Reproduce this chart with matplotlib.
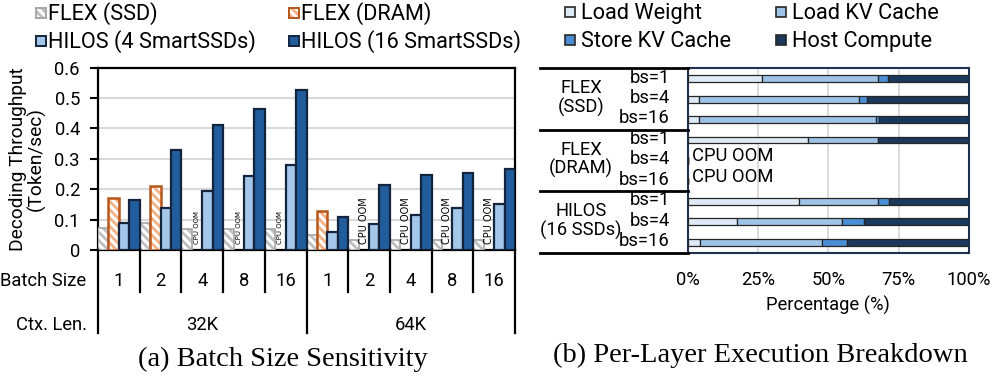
import matplotlib
matplotlib.use("Agg")
import matplotlib.pyplot as plt
from matplotlib.patches import Rectangle
from matplotlib.lines import Line2D
from matplotlib.transforms import blended_transform_factory
import numpy as np

plt.rcParams['font.family'] = ['Roboto', 'DejaVu Sans']
plt.rcParams['hatch.linewidth'] = 2.0

# ---------------- data: (a) batch size sensitivity ----------------
batch_sizes = ["1", "2", "4", "8", "16", "1", "2", "4", "8", "16"]
ctx_lens = ["32K", "64K"]
flex_ssd = [0.073, 0.088, 0.070, 0.070, 0.070, 0.051, 0.034, 0.034, 0.034, 0.034]
flex_dram = [0.170, 0.212, None, None, None, 0.130, None, None, None, None]
hilos_4 = [0.088, 0.139, 0.193, 0.245, 0.281, 0.059, 0.086, 0.116, 0.137, 0.150]
hilos_16 = [0.166, 0.328, 0.412, 0.465, 0.527, 0.109, 0.215, 0.246, 0.253, 0.267]
legend_a = ["FLEX (SSD)", "FLEX (DRAM)", "HILOS (4 SmartSSDs)", "HILOS (16 SmartSSDs)"]

# ---------------- data: (b) per-layer breakdown ----------------
systems = ["FLEX\n(SSD)", "FLEX\n(DRAM)", "HILOS\n(16 SSDs)"]
row_labels = ["bs=1", "bs=4", "bs=16"] * 3
load_weight = [26.3, 4.0, 4.0, 42.6, None, None, 39.6, 17.5, 4.5]
load_kv = [41.2, 56.9, 62.9, 25.2, None, None, 28.2, 37.5, 43.1]
store_kv = [3.8, 2.7, 1.0, 0.0, None, None, 3.9, 7.6, 9.0]
host_compute = [28.7, 36.4, 32.1, 32.2, None, None, 28.3, 37.4, 43.4]
legend_b = ["Load Weight", "Load KV Cache", "Store KV Cache", "Host Compute"]
pct_ticks = [0, 25, 50, 75, 100]

W, H = 998, 378
fig = plt.figure(figsize=(W / 100, H / 100), dpi=100)

def fbox(x0, y0, x1, y1):
    return [x0 / W, 1 - y1 / H, (x1 - x0) / W, (y1 - y0) / H]

ov = fig.add_axes([0, 0, 1, 1], zorder=5)
ov.set_xlim(0, W)
ov.set_ylim(H, 0)
ov.axis('off')

FS = 13.2      # axis text
FL = 15.7      # legend text
FC = 20.5      # captions
C_GRAY_E = '#A6A6A6'
C_GRAY_H = '#BFBFBF'
C_OR_E = '#B8561B'
C_OR_H = '#F4B183'
C_LB = '#A5C8EA'
C_DB = '#215C9C'
C_EDGE = '#14243D'

# ================= (a) =================
ax1 = fig.add_axes(fbox(98, 67.7, 515, 250))
n = len(batch_sizes)
x = np.arange(n)
bw = 0.25
ax1.bar(x - 1.5 * bw, flex_ssd, bw, color='white', edgecolor=C_GRAY_H, hatch='\\\\\\\\',
        linewidth=0, zorder=3)
ax1.bar(x - 1.5 * bw, flex_ssd, bw, fill=False, edgecolor=C_GRAY_E, linewidth=1.2, zorder=3)
for i, v in enumerate(flex_dram):
    if v is None:
        ax1.text(x[i] - 0.5 * bw, 0.02, "CPU OOM", rotation=90, ha='center', va='bottom',
                 fontsize=5.0 if i < 5 else 7.0, family='DejaVu Sans', zorder=4)
    else:
        ax1.bar(x[i] - 0.5 * bw, v, bw, color='white', edgecolor=C_OR_H, hatch='\\\\\\\\',
                linewidth=0, zorder=3)
        ax1.bar(x[i] - 0.5 * bw, v, bw, fill=False, edgecolor=C_OR_E, linewidth=1.8, zorder=3)
ax1.bar(x + 0.5 * bw, hilos_4, bw, color=C_LB, edgecolor=C_EDGE, linewidth=1.6, zorder=3)
ax1.bar(x + 1.5 * bw, hilos_16, bw, color=C_DB, edgecolor=C_EDGE, linewidth=1.6, zorder=3)
ax1.set_xlim(-0.5, n - 0.5)
ax1.set_ylim(0, 0.6)
ax1.set_yticks(np.arange(0, 0.61, 0.1))
ax1.set_yticklabels(["0", "0.1", "0.2", "0.3", "0.4", "0.5", "0.6"])
ax1.tick_params(axis='y', labelsize=FS, length=6, width=1.5, pad=7)
ax1.set_xticks([])
ax1.yaxis.grid(True, color='#D9D9D9', linewidth=1.5, zorder=0)
ax1.set_axisbelow(True)
for s in ax1.spines.values():
    s.set_linewidth(1.6)
    s.set_color('black')
ax1.set_ylabel("Decoding Throughput\n(Token/sec)", fontsize=13.8, linespacing=1.0, labelpad=6)

# category table below (a)
bt = blended_transform_factory(ax1.transData, ov.transData)
for k in range(n + 1):
    xb = k - 0.5
    y_end = 332.5 if k in (0, 5, 10) else 291.5
    ov.add_line(Line2D([xb, xb], [250, y_end], transform=bt, color='black', lw=1.6, clip_on=False))
for i, b in enumerate(batch_sizes):
    ov.text(x[i], 286.5, b, transform=bt, ha='center', va='baseline', fontsize=FS)
for j, c in enumerate(ctx_lens):
    ov.text(2 + 5 * j, 330, c, transform=bt, ha='center', va='baseline', fontsize=FS)
ov.text(86, 286.5, "Batch Size", ha='right', va='baseline', fontsize=FS)
ov.text(87, 330, "Ctx. Len.", ha='right', va='baseline', fontsize=FS)
ov.text(283, 359, "(a) Batch Size Sensitivity", ha='center', va='center', fontsize=FC,
        family='Liberation Serif')

# legend (a)
def legend_item(x0, ybase, label, face, edge, hatch=None, hatch_col=None, lw=1.4, tx=12):
    s = 10
    yc = ybase - 7.5
    if hatch:
        ov.add_patch(Rectangle((x0, yc - s / 2), s, s, facecolor='white', edgecolor=hatch_col,
                               hatch=hatch, linewidth=0))
        ov.add_patch(Rectangle((x0, yc - s / 2), s, s, fill=False, edgecolor=edge, linewidth=lw))
    else:
        ov.add_patch(Rectangle((x0, yc - s / 2), s, s, facecolor=face, edgecolor=edge, linewidth=lw))
    ov.text(x0 + tx, ybase, label, ha='left', va='baseline', fontsize=FL)

legend_item(36, 20, legend_a[0], 'white', C_GRAY_E, '\\\\\\\\', C_GRAY_H)
legend_item(289, 20, legend_a[1], 'white', C_OR_E, '\\\\\\\\', C_OR_H)
legend_item(36, 48, legend_a[2], C_LB, C_EDGE)
legend_item(289, 48, legend_a[3], C_DB, C_EDGE)

# ================= (b) =================
ax2 = fig.add_axes(fbox(687.7, 68.3, 969, 252.7))
cols = ['#DEEBF7', '#9DC3E6', '#4A8FD6', '#1A395C']
series = [load_weight, load_kv, store_kv, host_compute]
rows = np.arange(len(row_labels))
left = np.zeros(len(rows))
for vals, col in zip(series, cols):
    v = np.array([0 if a is None else a for a in vals], dtype=float)
    ax2.barh(rows, v, 0.34, left=left, color=col, edgecolor='#262626', linewidth=0.9, zorder=3)
    left += v
ax2.set_ylim(len(rows) - 0.5, -0.5)
ax2.set_xlim(0, 100)
ax2.set_xticks(pct_ticks)
ax2.set_xticklabels([f"{t}%" for t in pct_ticks])
ax2.tick_params(axis='x', labelsize=FS, length=0, pad=13)
ax2.set_yticks([])
ax2.xaxis.grid(True, color='#D9D9D9', linewidth=1.3, zorder=0)
ax2.set_axisbelow(True)
for s in ax2.spines.values():
    s.set_linewidth(1.5)
    s.set_color('#1F3050')
ax2.set_xlabel("Percentage (%)", fontsize=FS, labelpad=5)

for i, a in enumerate(host_compute):
    if a is None:
        ax2.text(1.5, rows[i] - 0.2, "CPU OOM", ha='left', va='center', fontsize=FS, zorder=4)

# label table for (b)
bt2 = blended_transform_factory(ov.transData, ax2.transData)
for yb in (-0.5, 2.5, 5.5, 8.5):
    ov.add_line(Line2D([540, 688], [yb, yb], transform=bt2, color='black', lw=2.0, clip_on=False))
for i, lab in enumerate(row_labels):
    ov.text(670, rows[i] - 0.05, lab, transform=bt2, ha='right', va='center', fontsize=FS)
for g, sname in enumerate(systems):
    ov.text(581, 3 * g + 0.95, sname, transform=bt2, ha='center', va='center', fontsize=FS,
            linespacing=1.0)

ov.text(760, 355, "(b) Per-Layer Execution Breakdown", ha='center', va='center', fontsize=FC,
        family='Liberation Serif')

def legend_item_b(x0, ybase, label, face):
    s = 10
    yc = ybase - 7.5
    ov.add_patch(Rectangle((x0, yc - s / 2), s, s, facecolor=face, edgecolor='#262626', linewidth=1.2))
    ov.text(x0 + 16, ybase, label, ha='left', va='baseline', fontsize=FL)

legend_item_b(565, 19, legend_b[0], cols[0])
legend_item_b(776, 19, legend_b[1], cols[1])
legend_item_b(565, 47, legend_b[2], cols[2])
legend_item_b(776, 47, legend_b[3], cols[3])

fig.savefig("out.png", dpi=100)
